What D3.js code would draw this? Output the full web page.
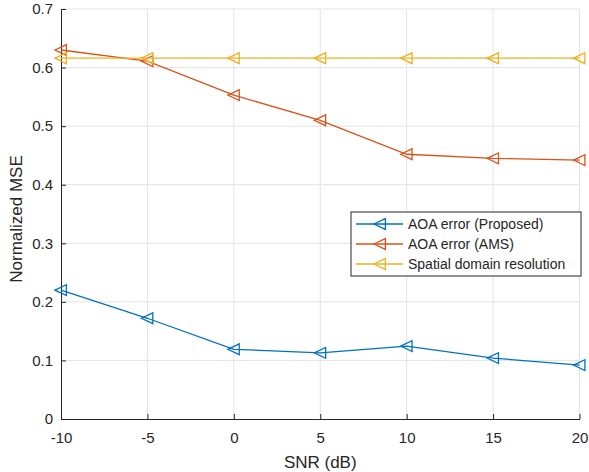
<!DOCTYPE html>
<html>
<head>
<meta charset="utf-8">
<script src="https://cdn.jsdelivr.net/npm/d3@7"></script>
<style>
body{margin:0;background:#fff;}
text{font-family:"Liberation Sans",Arial,sans-serif;fill:#262626;}
</style>
</head>
<body>
<div class="bod"></div>
<script>
// data
var snr = [-10,-5,0,5,10,15,20]
var proposed = [0.220,0.172,0.119,0.113,0.1245,0.104,0.092]
var ams = [0.630,0.611,0.553,0.510,0.452,0.445,0.442]
var spatial = [0.616,0.616,0.616,0.616,0.616,0.616,0.616]
var xTicks = [-10,-5,0,5,10,15,20]
var yTicks = [0,0.1,0.2,0.3,0.4,0.5,0.6,0.7]
var seriesNames = ['AOA error (Proposed)','AOA error (AMS)','Spatial domain resolution']
var colors = ['#0072BD','#D95319','#EDB120']

var size = {width:589,height:472,left:61,right:579.5,top:9,bottom:419}

const svg = d3.select('.bod')
  .append('svg')
  .attr('width',size.width)
  .attr('height',size.height)

let x = d3.scaleLinear().domain([-10,20]).range([size.left,size.right])
let y = d3.scaleLinear().domain([0,0.7]).range([size.bottom,size.top])

//grid
svg.append('g').selectAll('line')
  .data(xTicks.slice(1))
  .enter().append('line')
  .attr('x1',d=>x(d)).attr('x2',d=>x(d))
  .attr('y1',size.top).attr('y2',size.bottom)
  .attr('stroke','#e3e3e3').attr('stroke-width',1)
svg.append('g').selectAll('line')
  .data(yTicks.slice(1))
  .enter().append('line')
  .attr('y1',d=>y(d)).attr('y2',d=>y(d))
  .attr('x1',size.left).attr('x2',size.right)
  .attr('stroke','#e3e3e3').attr('stroke-width',1)

//axes
let xAxis = d3.axisBottom(x).tickValues(xTicks).tickSizeInner(-5).tickSizeOuter(0).tickPadding(13)
  .tickFormat(d=>String(d))
let yAxis = d3.axisLeft(y).tickValues(yTicks).tickSizeInner(-5).tickSizeOuter(0).tickPadding(8)
  .tickFormat(d=>d===0?'0':d3.format('.1f')(d))

let gx = svg.append('g').attr('transform',`translate(0,${size.bottom})`).call(xAxis)
let gy = svg.append('g').attr('transform',`translate(${size.left},0)`).call(yAxis)
;[gx,gy].forEach(g=>{
  g.select('.domain').attr('stroke','#262626')
  g.selectAll('.tick line').attr('stroke','#262626')
  g.selectAll('text').style('font-size','15px').attr('fill','#262626')
})

svg.append('text')
  .attr('x',(size.left+size.right)/2).attr('y',468)
  .attr('text-anchor','middle')
  .style('font-size','17px')
  .text('SNR (dB)')
svg.append('text')
  .attr('transform',`translate(22,${(size.top+size.bottom)/2+5}) rotate(-90)`)
  .attr('text-anchor','middle')
  .style('font-size','17px')
  .text('Normalized MSE')

//triangle pointing left
let tri = (cx,cy,s) => `M${cx-s},${cy} L${cx+s*0.9},${cy-s*0.9} L${cx+s*0.9},${cy+s*0.9} Z`

let allSeries = [proposed,ams,spatial]
allSeries.forEach((vals,k)=>{
  let pts = snr.map((s,i)=>[x(s),y(vals[i])])
  svg.append('path')
    .attr('d',d3.line()(pts))
    .attr('fill','none')
    .attr('stroke',colors[k])
    .attr('stroke-width',1.3)
  svg.append('g').selectAll('path')
    .data(pts)
    .enter().append('path')
    .attr('d',p=>tri(p[0],p[1],6))
    .attr('fill','none')
    .attr('stroke',colors[k])
    .attr('stroke-width',1.3)
})

//legend
let legend = svg.append('g')
legend.append('rect')
  .attr('x',351).attr('y',212).attr('width',230).attr('height',64)
  .attr('fill','#fff').attr('stroke','#262626').attr('stroke-width',1)
seriesNames.forEach((n,i)=>{
  let ly = 224+i*20
  legend.append('line')
    .attr('x1',356).attr('x2',403).attr('y1',ly).attr('y2',ly)
    .attr('stroke',colors[i]).attr('stroke-width',1.3)
  legend.append('path')
    .attr('d',tri(380,ly,6))
    .attr('fill','none').attr('stroke',colors[i]).attr('stroke-width',1.3)
  legend.append('text')
    .attr('x',408).attr('y',ly+5)
    .style('font-size','14px')
    .text(n)
})
</script>
</body>
</html>
